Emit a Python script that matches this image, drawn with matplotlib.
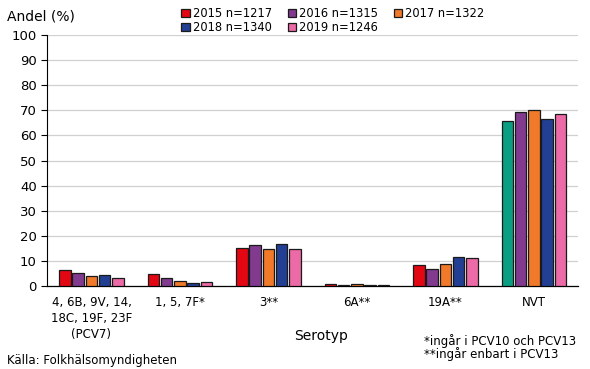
import numpy as np
from matplotlib import pyplot as plt

# Serotype groups and share (%) per year
groups = ['4, 6B, 9V, 14,\n18C, 19F, 23F\n(PCV7)', '1, 5, 7F*', '3**', '6A**', '19A**', 'NVT']
years = ['2015 n=1217', '2016 n=1315', '2017 n=1322', '2018 n=1340', '2019 n=1246']

y2015 = [6.4, 4.7, 15.3, 0.8, 8.4, 65.6]
y2016 = [5.1, 3.3, 16.4, 0.3, 6.7, 69.3]
y2017 = [3.9, 2.0, 14.9, 0.9, 8.8, 70.1]
y2018 = [4.3, 1.3, 16.7, 0.3, 11.6, 66.4]
y2019 = [3.3, 1.7, 14.8, 0.3, 11.1, 68.5]

colors = ['#E30613', '#823A8E', '#F07A2A', '#233F94', '#EC6AA6']

fig = plt.figure(figsize=(5.9, 3.69), dpi=100)
ax = fig.add_axes([0.080, 0.225, 0.900, 0.680])

x = np.arange(len(groups))
width = 0.13
step = 0.15
handles = []
for i, (vals, col, lab) in enumerate(zip([y2015, y2016, y2017, y2018, y2019], colors, years)):
    bars = ax.bar(x + (i - 2) * step, vals, width, color=col, edgecolor='#1a1a1a',
                  linewidth=0.9, label=lab, zorder=3)
    handles.append(bars)

# first NVT bar is drawn in teal in the original
handles[0][5].set_facecolor('#0A9E82')

ax.set_xlim(-0.5, len(groups) - 0.5)
ax.set_ylim(0, 100)
ax.set_yticks(range(0, 101, 10))
ax.set_xticks(x)
ax.set_xticklabels(groups, fontsize=8.5, linespacing=1.3)
ax.tick_params(axis='y', labelsize=9.5, length=4, width=0.8)
ax.tick_params(axis='x', length=0, pad=7)
ax.grid(axis='y', color='#d0d0d0', linewidth=0.9, zorder=0)
for s in ['top', 'right']:
    ax.spines[s].set_visible(False)
ax.spines['left'].set_linewidth(0.8)
ax.spines['bottom'].set_linewidth(0.9)

# legend: 2015, 2018 / 2016, 2019 / 2017 columns
order = [0, 3, 1, 4, 2]
leg = fig.legend([handles[i] for i in order], [years[i] for i in order], ncol=3,
                 loc='upper left', bbox_to_anchor=(0.290, 1.01), frameon=False,
                 fontsize=8.3, handlelength=0.7, handleheight=0.7, handletextpad=0.3,
                 columnspacing=1.35, labelspacing=0.1)

fig.text(0.012, 0.955, 'Andel (%)', fontsize=10, va='center')
fig.text(0.545, 0.09, 'Serotyp', fontsize=10, ha='center', va='center')
fig.text(0.718, 0.077, '*ingår i PCV10 och PCV13', fontsize=8.5, va='center')
fig.text(0.718, 0.040, '**ingår enbart i PCV13', fontsize=8.5, va='center')
fig.text(0.012, 0.022, 'Källa: Folkhälsomyndigheten', fontsize=8.5, va='center')

plt.savefig('out.png')
